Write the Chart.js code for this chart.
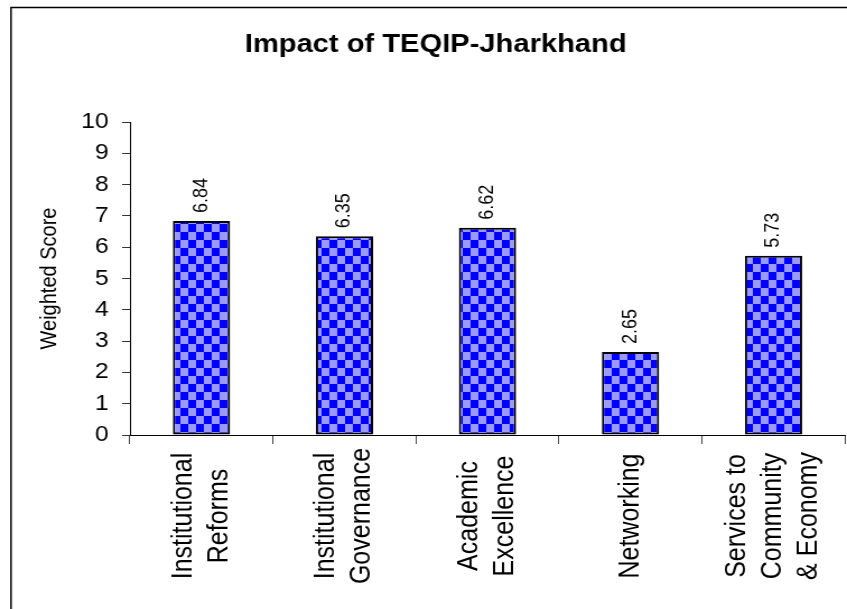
<!DOCTYPE html>
<html>
<head>
<meta charset="utf-8">
<script src="https://cdn.jsdelivr.net/npm/chart.js@4"></script>
<style>
  html, body { margin: 0; padding: 0; background: #fff; }
</style>
</head>
<body>
<!-- the original picture is a little wider in its lettering, so the canvas is drawn narrow and stretched -->
<canvas id="chart" width="756" height="609" style="width:847px;height:609px"></canvas>
<script>
// data
const categories = [
  ['Institutional', 'Reforms'],
  ['Institutional', 'Governance'],
  ['Academic', 'Excellence'],
  ['Networking'],
  ['Services to', 'Community', '& Economy']
];
const scores = [6.84, 6.35, 6.62, 2.65, 5.73];
const yMin = 0, yMax = 10, yStep = 1;
const chartTitle = 'Impact of TEQIP-Jharkhand';
const yTitle = 'Weighted Score';

const FONT = "'Liberation Sans', Arial, Helvetica, sans-serif";

const canvas = document.getElementById('chart');
const ctx = canvas.getContext('2d');

// checkerboard fill like the excel pattern
function checker(){
  const p = document.createElement('canvas');
  p.width = 14; p.height = 16;
  const g = p.getContext('2d');
  g.fillStyle = '#9999ff'; g.fillRect(0, 0, 14, 16);
  g.fillStyle = '#0000ff'; g.fillRect(0, 0, 7, 8); g.fillRect(7, 8, 7, 8);
  return ctx.createPattern(p, 'repeat');
}

// outer frame (only left + top are inside the picture)
const framePlugin = {
  id: 'frame',
  beforeDraw(chart){
    const c = chart.ctx;
    c.save();
    c.strokeStyle = '#000'; c.lineWidth = 1.5;
    c.beginPath();
    c.moveTo(9.8, chart.height + 5); c.lineTo(9.8, 7.5); c.lineTo(chart.width + 5, 7.5);
    c.stroke();
    c.restore();
  }
};

// value labels above bars, rotated
const valuePlugin = {
  id: 'values',
  afterDatasetsDraw(chart){
    const c = chart.ctx;
    const meta = chart.getDatasetMeta(0);
    c.save();
    c.fillStyle = '#000';
    c.font = `18px ${FONT}`;
    c.textAlign = 'left'; c.textBaseline = 'middle';
    meta.data.forEach((bar, i) => {
      c.save();
      c.translate(bar.x, bar.y - 8);
      c.rotate(-Math.PI / 2);
      c.fillText(scores[i].toFixed(2), 0, 0);
      c.restore();
    });
    c.restore();
  }
};

// category labels, rotated, lines centred on the bar
const xLabelPlugin = {
  id: 'xlabels',
  afterDraw(chart){
    const c = chart.ctx;
    const xs = chart.scales.x;
    const lh = 32;
    c.save();
    c.fillStyle = '#000';
    c.font = `25px ${FONT}`;
    c.textAlign = 'center'; c.textBaseline = 'middle';
    categories.forEach((lines, i) => {
      const cx = xs.getPixelForValue(i);
      lines.forEach((t, j) => {
        c.save();
        c.translate(cx + (j - (lines.length - 1) / 2) * lh, 516);
        c.rotate(-Math.PI / 2);
        c.fillText(t, 0, 0);
        c.restore();
      });
    });
    c.restore();
  }
};

Chart.defaults.font.family = FONT;
Chart.defaults.color = '#000';

new Chart(ctx, {
  type: 'bar',
  data: {
    labels: categories,
    datasets: [{
      data: scores,
      backgroundColor: checker(),
      borderColor: '#000',
      borderWidth: 2,
      borderSkipped: false,
      barPercentage: 0.4,
      categoryPercentage: 1
    }]
  },
  options: {
    responsive: false,
    animation: false,
    devicePixelRatio: 1,
    layout: { padding: { left: 23.5, right: 1.75, top: 0, bottom: 0 } },
    plugins: {
      legend: { display: false },
      tooltip: { enabled: false },
      title: {
        display: true,
        text: chartTitle,
        color: '#000',
        font: { size: 26, weight: 'bold' },
        padding: { top: 29.4, bottom: 61.4 }
      }
    },
    scales: {
      x: {
        offset: true,
        grid: { offset: true, drawOnChartArea: false, tickLength: 9, color: '#444' },
        border: { color: '#000', width: 1 },
        ticks: { display: false },
        afterFit: s => { s.height = 174; }
      },
      y: {
        min: yMin, max: yMax,
        ticks: { stepSize: yStep, font: { size: 22 }, padding: 12, color: '#000' },
        grid: { drawOnChartArea: false, tickLength: 7, color: '#333' },
        border: { color: '#000', width: 1 },
        title: { display: true, text: yTitle, font: { size: 20 }, padding: { top: 9, bottom: 0 }, color: '#000' },
        afterFit: s => { s.width = 92.5; }
      }
    }
  },
  plugins: [framePlugin, valuePlugin, xLabelPlugin]
});
</script>
</body>
</html>
